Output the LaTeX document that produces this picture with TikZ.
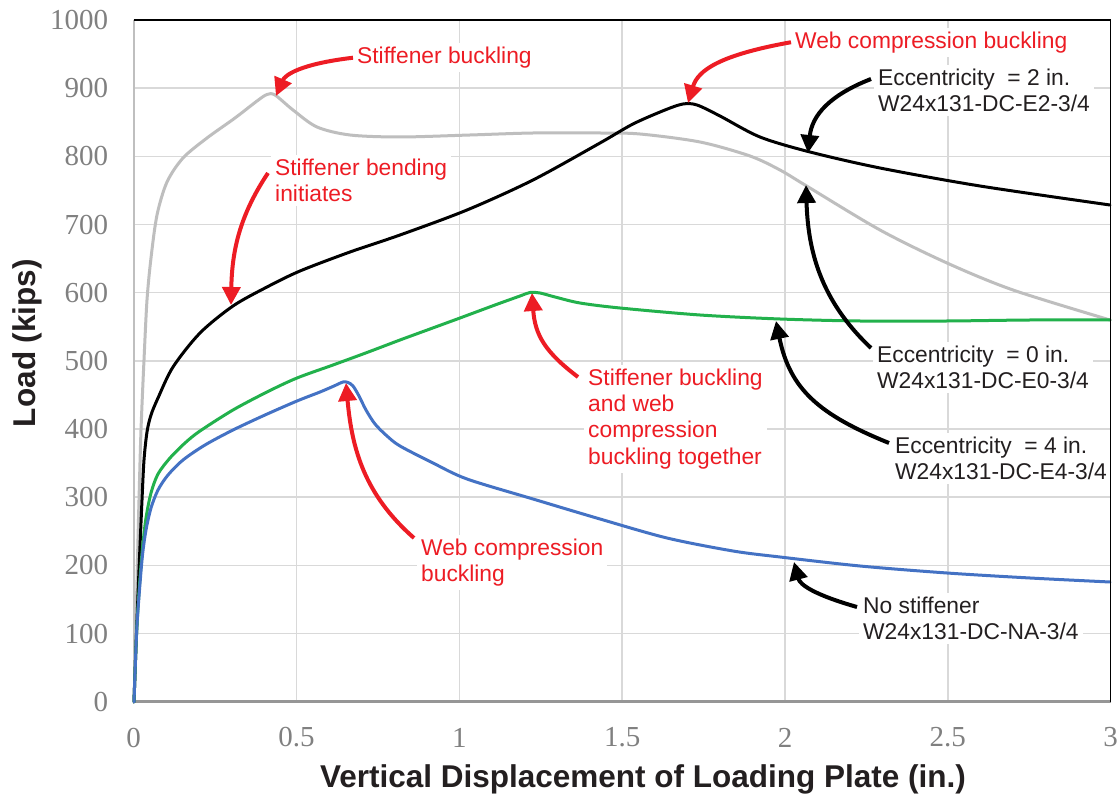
\documentclass[tikz,border=0pt]{standalone}
\usepackage{fontspec}
\setmainfont{Liberation Sans}
\newfontfamily\tickfont{Liberation Serif}
\usetikzlibrary{arrows.meta}
\definecolor{gridc}{RGB}{217,217,217}
\definecolor{leftaxc}{RGB}{191,191,191}
\definecolor{botaxc}{RGB}{150,150,150}
\definecolor{tickc}{RGB}{128,128,128}
\definecolor{annred}{RGB}{237,28,36}
\definecolor{anndark}{RGB}{35,31,32}
\definecolor{cgray}{RGB}{190,190,190}
\definecolor{cgreen}{RGB}{34,177,76}
\definecolor{cblue}{RGB}{68,114,196}
\newcommand\annfont{\fontsize{22.8pt}{26.3pt}\selectfont}
\begin{document}
\begin{tikzpicture}[x=1pt,y=1pt,
  gridline/.style={draw=gridc,line width=1.6pt},
  datacurve/.style={line width=3pt,line join=round,line cap=round},
  lbl/.style={fill=white,anchor=north west,inner xsep=4pt,inner ysep=4pt,align=left,font=\annfont},
  redlbl/.style={lbl,text=annred},
  darklbl/.style={lbl,text=anndark},
  redarrow/.style={draw=annred,line width=4pt,-{Triangle[length=18pt,width=18pt]}},
  blkarrow/.style={draw=black,line width=4pt,-{Triangle[length=18pt,width=18pt]}},
  ytick/.style={anchor=east,inner sep=0pt,text=tickc,font=\tickfont\fontsize{29pt}{30pt}\selectfont},
  xtick/.style={anchor=center,inner sep=0pt,text=tickc,font=\tickfont\fontsize{29pt}{30pt}\selectfont},
  axtitle/.style={inner sep=0pt,text=anndark,font=\bfseries\fontsize{31.5pt}{33pt}\selectfont}]
\useasboundingbox (0,0) rectangle (1120,-799);
\fill[white] (0,0) rectangle (1120,-799);
% grid
\foreach \k in {1,...,5} \draw[gridline] ({133.7+162.833*\k},-20) -- ({133.7+162.833*\k},-701.7);
\foreach \k in {1,...,9} \draw[gridline] (133.7,{-701.7+68.17*\k}) -- (1110.7,{-701.7+68.17*\k});
% axes
\draw[draw=leftaxc,line width=2pt] (133.7,-20) -- (133.7,-701.7);
\draw[draw=botaxc,line width=3pt] (133.7,-701.7) -- (1111.4,-701.7);
% tick labels
\foreach \i in {0,...,10} \node[ytick] (yt\i) at (108.3,{-701.7+68.17*\i}) {\number\numexpr\i*100\relax};
\foreach \t [count=\i from 0] in {0,0.5,1,1.5,2,2.5,3} \node[xtick] (xt\i) at ({133.7+162.833*\i},-737.5) {\t};
% axis titles
\node[axtitle,anchor=base] (xtitle) at (643,-787) {Vertical Displacement of Loading Plate (in.)};
\node[axtitle,anchor=base,rotate=90] (ytitle) at (35,-343) {Load (kips)};
% curves
\draw[datacurve,cgray] plot[smooth,tension=0.5] coordinates {(134,-702) (135.5,-650) (137,-580) (139,-500) (141,-430) (144,-360) (147,-300) (151,-258) (157,-215) (167,-182) (183,-158) (207,-138) (235,-118) (257,-101) (267,-94.5) (275,-95) (293,-110) (317,-127) (350,-135) (400,-137) (470,-135) (533,-133) (600,-133) (640,-134) (700,-142) (750,-156) (780,-170) (805,-185) (880,-230) (947,-263) (1013,-290) (1110,-320)};
\draw[datacurve,black] plot[smooth,tension=0.5] coordinates {(134,-702) (135.5,-660) (137,-620) (139,-570) (142,-500) (144,-460) (147,-432) (151,-415) (158,-398) (173,-367) (200,-333) (233,-306) (267,-287) (300,-271) (350,-252) (400,-235) (467,-210) (533,-180) (600,-143) (633,-124) (665,-110) (683,-104) (697,-105) (720,-116) (760,-137) (810,-152) (880,-168) (980,-186) (1110,-205)};
\draw[datacurve,cgreen] plot[smooth,tension=0.5] coordinates {(134,-702) (135.5,-660) (137,-625) (139.5,-585) (142.5,-548) (146,-518) (151,-493) (158,-474) (170,-458) (185,-443) (200,-431) (233,-410) (267,-392) (297,-378) (333,-365) (367,-352.5) (400,-340) (430,-329) (460,-318) (495,-305) (520,-296) (530,-292.5) (540,-293) (555,-297) (580,-303) (620,-308) (700,-315) (780,-319) (860,-321) (947,-321) (1030,-320) (1110,-320)};
\draw[datacurve,cblue] plot[smooth,tension=0.5] coordinates {(134,-702) (135.5,-660) (137,-625) (139.5,-590) (142.5,-555) (146,-530) (151,-508) (158,-490) (168,-475) (183,-460) (205,-445) (233,-430) (265,-415) (297,-401) (320,-392) (334,-386) (343,-382) (348,-382.5) (353,-386) (359,-396) (366,-410) (375,-424) (387,-436) (400,-446) (433,-463) (467,-479) (533,-499) (600,-519) (667,-538) (733,-551) (780,-557) (860,-566) (947,-573) (1030,-578) (1110,-582)};
% arrow tips on curves
\coordinate (tipSB) at (276,-96);
\coordinate (tipSBI) at (231,-305);
\coordinate (tipWCB) at (688,-103);
\coordinate (tipSBW) at (532,-293);
\coordinate (tipWCB2) at (346,-383);
\coordinate (tipE2) at (808,-153);
\coordinate (tipE0) at (806,-185);
\coordinate (tipE4) at (776,-321);
\coordinate (tipNS) at (794,-562);
% labels
\node[redlbl] (sb) at (353,-42.9) {Stiffener buckling};
\node[redlbl] (wcb) at (791,-27.4) {Web compression buckling};
\node[darklbl] (e2) at (874,-64.4) {Eccentricity\ \ = 2 in.\\W24x131-DC-E2-3/4};
\node[redlbl] (sbi) at (271,-154.4) {Stiffener bending\\initiates};
\node[redlbl] (sbw) at (584,-364.4) {Stiffener buckling\\and web\\compression\\buckling together};
\node[redlbl] (wcb2) at (417,-534.4) {Web compression\\buckling};
\node[darklbl] (e0) at (873,-341.4) {Eccentricity\ \ = 0 in.\\W24x131-DC-E0-3/4};
\node[darklbl] (e4) at (891,-432.4) {Eccentricity\ \ = 4 in.\\W24x131-DC-E4-3/4};
\node[darklbl] (ns) at (859,-592.4) {No stiffener\\W24x131-DC-NA-3/4};
% frame (top and right)
\draw[black,line width=1.3pt] (133.7,-20) -- (1110.7,-20) -- (1110.7,-701.7);
% arrows
\draw[redarrow] (sb.west) .. controls (300,-64) and (285,-75) .. (tipSB);
\draw[redarrow] ([shift={(-3,-18.6)}]sbi.north west) .. controls (240,-215) and (232,-250) .. (tipSBI);
\draw[redarrow] (wcb.west) .. controls (720,-55) and (698,-70) .. (tipWCB);
\draw[redarrow] ([shift={(-6,-12.6)}]sbw.north west) .. controls (545,-352) and (535,-335) .. (tipSBW);
\draw[redarrow] ([shift={(-3,-3.6)}]wcb2.north west) .. controls (365,-495) and (352,-450) .. (tipWCB2);
\draw[blkarrow] ([shift={(-3,-14.6)}]e2.north west) .. controls (830,-95) and (812,-115) .. (tipE2);
\draw[blkarrow] ([shift={(-2,-6.6)}]e0.north west) .. controls (820,-300) and (808,-250) .. (tipE0);
\draw[blkarrow] ([shift={(-2,-10.6)}]e4.north west) .. controls (820,-415) and (790,-390) .. (tipE4);
\draw[blkarrow] ([shift={(-2,-14.6)}]ns.north west) .. controls (815,-595) and (800,-585) .. (tipNS);
\end{tikzpicture}
\end{document}
